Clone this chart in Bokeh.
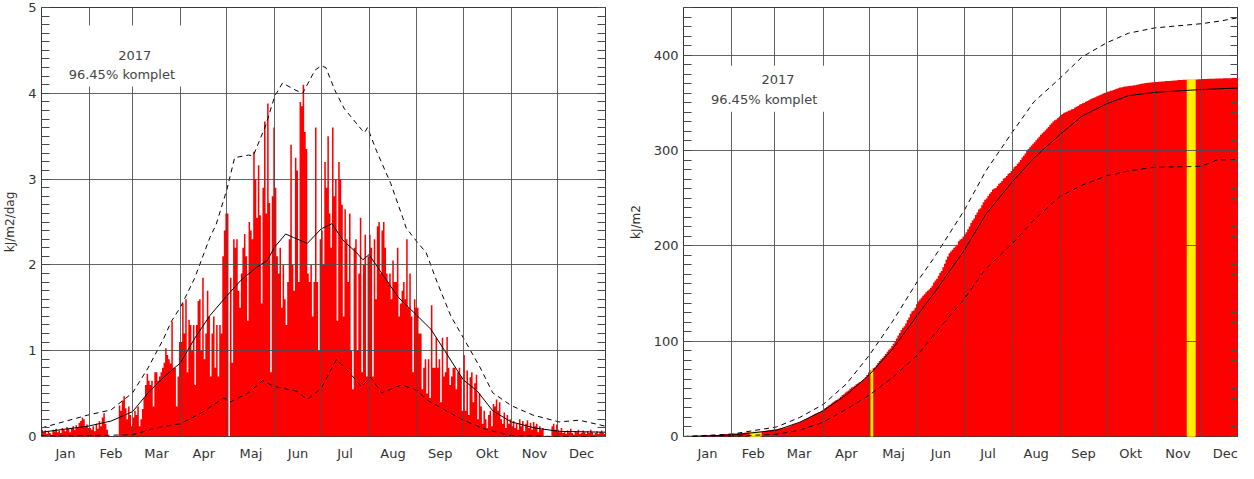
import numpy as np
from bokeh.plotting import figure
from bokeh.layouts import row
from bokeh.models import FixedTicker, LinearAxis, BoxAnnotation, Label, Range1d
from bokeh.embed import file_html
from bokeh.resources import INLINE

# ---------------- data ----------------
year_text = "2017"
complete_text = "96.45% komplet"
months = ["Jan", "Feb", "Mar", "Apr", "Maj", "Jun", "Jul", "Aug", "Sep", "Okt", "Nov", "Dec"]
month_len = [31, 28, 31, 30, 31, 30, 31, 31, 30, 31, 30, 31]

# daily UV dose 2017 (kJ/m2/dag), None = missing day
jan = [0.08, 0.05, 0.07, 0.03, 0.06, 0.04, 0.02, 0.08, 0.06, 0.09, 0.05, 0.07, 0.04, 0.10, 0.08, 0.06,
       0.11, 0.09, 0.05, 0.10, 0.12, 0.08, 0.13, 0.10, 0.16, 0.18, 0.22, 0.20, 0.12, 0.14, 0.10]
feb = [0.10, 0.08, 0.12, 0.06, 0.15, 0.09, 0.18, 0.12, 0.22, 0.27, 0.15, 0.08,
       None, None, None, None, None, None, None,
       0.36, 0.30, 0.42, 0.47, 0.33, 0.20, 0.35, 0.25, 0.12]
mar = [0.22, 0.30, 0.25, 0.35, 0.12, 0.20, 0.32, 0.45, 0.60, 0.73, 0.65, 0.60, 0.65, 0.35, 0.75, 0.75,
       0.65, 0.70, 0.75, 0.80, 0.86, 1.03, 0.95, 0.90, 0.85, 1.34, 0.80, 0.80, 0.35, 0.70, 1.10]
apr = [1.10, 1.55, 1.20, 1.60, 0.75, 1.36, 1.30, 1.00, 1.30, 0.60, 1.30, 1.58, 1.60, 1.00, 1.85,
       0.90, 1.20, 1.70, 1.40, 0.70, 1.20, 1.40, 0.80, 1.30, 0.70, 1.30, 1.20, 2.10, 2.40, 2.60]
may = [2.60, None, 1.85, 0.86, 2.30, 2.20, 2.30, 1.70, 1.50, 1.90, 2.20, 2.36, 2.10, 1.35, 2.50, 2.40,
       2.30, 3.32, 3.00, 2.55, 3.16, 2.58, 1.55, 2.90, 3.67, 2.60, 3.88, 2.72, 0.75, 2.80, 3.60]
jun = [2.90, 2.10, 1.90, 2.20, 1.50, 2.00, 1.60, 1.30, 1.80, 2.30, 3.40, 2.00, 1.70, 3.25, 3.10,
       1.80, 3.90, 3.85, 4.10, 3.55, 3.35, 1.90, 1.80, 2.00, 1.40, 1.80, 3.60, 1.80, 1.00, 2.30]
jul = [2.40, 2.00, 3.20, 2.90, 3.50, 2.60, 2.20, 3.60, 2.80, 3.00, 1.35, 3.20, 3.00, 2.70, 1.40, 2.65,
       2.30, 1.80, 2.60, 1.00, 0.55, 2.20, 2.30, 1.00, 1.90, 2.55, 0.75, 2.00, 2.35, 0.70, 2.10]
aug = [2.35, 2.20, 0.70, 2.30, 1.60, 2.45, 2.50, 1.90, 2.40, 2.50, 2.20, 1.90, 1.80, 1.90, 1.60, 2.05,
       1.80, 1.80, 2.20, 1.40, 1.55, 1.70, 1.80, 1.60, 2.30, 1.50, 1.90, 1.40, 0.75, 1.60, 1.50]
sep = [1.50, 1.20, 1.20, 0.55, 0.80, 0.90, 0.50, 0.90, 0.45, 1.53, 0.80, 0.80, 1.15, 0.80, 0.90,
       0.40, 1.15, 0.70, 0.75, 1.16, 0.80, 0.60, 0.70, 0.80, 0.80, 0.55, 0.75, 0.80, 0.70, 0.30]
okt = [0.95, 0.30, 0.77, 0.25, 0.69, 0.75, 0.40, 0.62, 0.72, 0.20, 0.50, 0.35, 0.15, 0.30, 0.20, 0.10,
       0.25, 0.30, 0.12, 0.38, 0.35, 0.43, 0.30, 0.40, 0.20, 0.15, 0.28, 0.10, 0.25, 0.15, 0.20]
nov = [0.12, 0.18, 0.10, 0.15, 0.08, 0.20, 0.12, 0.18, 0.06, 0.15, 0.19, 0.10, 0.16, 0.08, 0.17,
       0.12, 0.15, 0.05, 0.12, 0.08, 0.10, None, None, None, None, None, 0.12, 0.15, 0.08, 0.14]
dec = [0.08, 0.05, 0.10, 0.04, 0.06, 0.03, 0.07, 0.05, 0.09, 0.04, 0.02, 0.06, 0.05, 0.08, 0.03, 0.04,
       0.07, 0.05, 0.03, 0.06, 0.04, 0.08, 0.05, 0.02, 0.04, 0.06, 0.03, 0.05, 0.07, 0.04, 0.03]

# climatology of daily dose (day of year, value)
clim_max_day = [0, 30, 45, 59, 69, 79, 84, 90, 99, 109, 113, 120, 125, 134, 137, 145, 151, 156, 164, 169,
                177, 181, 184, 190, 196, 207, 209, 211, 217, 226, 234, 236, 243, 249, 256, 265, 273, 284,
                292, 304, 318, 335, 348, 365]
clim_max = [0.10, 0.25, 0.31, 0.51, 0.80, 1.14, 1.34, 1.51, 1.84, 2.32, 2.47, 2.88, 3.25, 3.28, 3.27, 3.62,
            3.97, 4.12, 4.04, 4.00, 4.27, 4.32, 4.30, 4.03, 3.82, 3.58, 3.54, 3.60, 3.32, 2.95, 2.54, 2.43,
            2.27, 2.14, 1.80, 1.40, 1.15, 0.80, 0.51, 0.36, 0.25, 0.17, 0.19, 0.12]
clim_mean_day = [0, 30, 45, 59, 69, 79, 90, 99, 109, 120, 129, 139, 146, 151, 158, 163, 172, 181, 188, 195,
                 204, 208, 212, 221, 231, 243, 252, 262, 273, 282, 292, 304, 319, 335, 365]
clim_mean = [0.05, 0.12, 0.18, 0.29, 0.51, 0.69, 0.86, 1.14, 1.41, 1.64, 1.82, 1.97, 2.05, 2.21, 2.36, 2.32,
             2.25, 2.42, 2.48, 2.29, 2.14, 2.06, 2.12, 1.88, 1.62, 1.41, 1.25, 0.97, 0.66, 0.53, 0.30, 0.17,
             0.10, 0.06, 0.05]
clim_min_day = [0, 30, 59, 74, 90, 104, 118, 122, 134, 143, 151, 165, 172, 181, 191, 200, 207, 213, 220, 233,
                243, 249, 260, 273, 288, 304, 334, 365]
clim_min = [0.01, 0.01, 0.02, 0.10, 0.15, 0.28, 0.45, 0.40, 0.51, 0.65, 0.58, 0.53, 0.43, 0.56, 0.90, 0.73,
            0.58, 0.69, 0.51, 0.60, 0.54, 0.43, 0.32, 0.19, 0.08, 0.01, 0.0, 0.0]

# climatology of accumulated dose (kJ/m2)
cum_mean_day = [0, 31, 60, 75, 90, 105, 120, 135, 151, 161, 181, 195, 212, 226, 243, 257, 273, 287, 304, 334, 365]
cum_mean = [0, 1.5, 6.6, 15, 27, 43.6, 65, 92, 127.5, 149, 195, 233, 267, 292, 317, 336, 349, 357.5, 361, 364, 366]
cum_max_day = [0, 31, 60, 75, 90, 105, 120, 135, 151, 161, 181, 195, 212, 226, 243, 257, 273, 287, 304, 334,
               347, 360, 365]
cum_max = [0, 2.5, 10, 20, 33.5, 55, 85.6, 121, 163, 186, 237, 278.5, 319, 351, 376, 398, 413, 423, 428.6,
           433, 436, 440, 442]
cum_min_day = [0, 31, 60, 75, 90, 105, 120, 135, 151, 161, 181, 195, 212, 226, 243, 257, 273, 287, 304, 325,
               334, 344, 354, 365]
cum_min = [0, 0.3, 2.3, 6.7, 15, 28.5, 43.6, 62, 85.6, 105.7, 144, 176, 202, 227, 252, 263.5, 273.5, 278.5,
           282.6, 283, 283.5, 290, 290.6, 288]

# ---------------- derived ----------------
daily = jan + feb + mar + apr + may + jun + jul + aug + sep + okt + nov + dec
days = np.arange(len(daily))
vals = np.array([np.nan if v is None else v for v in daily], dtype=float)
miss = np.isnan(vals)
filled = np.where(miss, 0.0, vals)
cum = np.cumsum(filled)
edges = np.arange(len(daily) + 1)
step_daily = np.append(filled, filled[-1])
step_cum = np.append(cum, cum[-1])

mstart = np.concatenate([[0], np.cumsum(month_len)])
mmid = [float(mstart[i] + month_len[i] / 2.0) for i in range(12)]

FONT = "DejaVu Sans"
TXT = "#333333"
GRID = "#4a4a4a"
RED = "#ff0000"
YELLOW = "#fff000"


def make_fig(width, min_left, min_right, x_end, y_end, yticks, yminor, ylabel):
    p = figure(width=width, height=463, x_range=Range1d(0, x_end), y_range=Range1d(0, y_end),
               output_backend="svg", toolbar_location=None,
               min_border_left=min_left, min_border_right=min_right,
               min_border_top=7, min_border_bottom=18)
    p.outline_line_color = "#3a3a3a"
    p.outline_line_width = 1
    xa = p.xaxis[0]
    xa.ticker = FixedTicker(ticks=mmid)
    xa.major_label_overrides = {m: n for m, n in zip(mmid, months)}
    xa.major_tick_line_color = None
    xa.minor_tick_line_color = None
    xa.axis_line_color = None
    xa.major_label_standoff = 3
    xa.major_label_text_font = FONT
    xa.major_label_text_font_size = "13px"
    xa.major_label_text_color = TXT

    ya = p.yaxis[0]
    ya.ticker = FixedTicker(ticks=yticks, minor_ticks=yminor)
    ya.axis_line_color = None
    ya.major_tick_in = 8
    ya.major_tick_out = 0
    ya.minor_tick_in = 8
    ya.minor_tick_out = 0
    ya.major_tick_line_color = GRID
    ya.minor_tick_line_color = GRID
    ya.major_label_standoff = 5
    ya.major_label_text_font = FONT
    ya.major_label_text_font_size = "13px"
    ya.major_label_text_color = TXT
    ya.axis_label = ylabel
    ya.axis_label_text_font = FONT
    ya.axis_label_text_font_size = "12px"
    ya.axis_label_text_font_style = "normal"
    ya.axis_label_text_color = TXT
    ya.axis_label_standoff = 8

    ra = LinearAxis(ticker=FixedTicker(ticks=yticks, minor_ticks=yminor),
                    major_label_overrides={t: "" for t in yticks},
                    major_label_text_font_size="0px", major_label_standoff=0,
                    axis_line_color=None, major_tick_in=8, major_tick_out=0,
                    minor_tick_in=8, minor_tick_out=0,
                    major_tick_line_color=GRID, minor_tick_line_color=GRID)
    p.add_layout(ra, "right")

    p.xgrid.ticker = FixedTicker(ticks=[float(s) for s in mstart[1:12]])
    p.ygrid.ticker = FixedTicker(ticks=yticks)
    p.grid.grid_line_color = GRID
    p.grid.grid_line_alpha = 0.85
    p.grid.grid_line_width = 1
    p.grid.level = "annotation"
    return p


def add_textbox(p, left, right, bottom, top, x1, y1, x2, y2):
    p.add_layout(BoxAnnotation(left=left, right=right, bottom=bottom, top=top,
                               fill_color="white", fill_alpha=1.0, line_color=None, level="overlay"))
    p.add_layout(Label(x=x1, y=y1, text=year_text, text_align="center", text_baseline="middle",
                       text_font=FONT, text_font_size="13px", text_color="#444444", level="overlay"))
    p.add_layout(Label(x=x2, y=y2, text=complete_text, text_align="center", text_baseline="middle",
                       text_font=FONT, text_font_size="13px", text_color="#444444", level="overlay"))


# ---------------- left panel: daily dose ----------------
p1 = make_fig(625, 37, 20, 365, 5, [0, 1, 2, 3, 4, 5],
              [round(0.1 * i, 1) for i in range(51)], "kJ/m2/dag")
p1.varea_step(x=edges, y1=np.zeros_like(step_daily), y2=step_daily, step_mode="after", fill_color=RED)
p1.line(clim_max_day, clim_max, line_color="black", line_width=1, line_dash="5 4")
p1.line(clim_mean_day, clim_mean, line_color="black", line_width=1)
p1.line(clim_min_day, clim_min, line_color="black", line_width=1, line_dash="5 4")
add_textbox(p1, 12.9, 112.5, 4.08, 4.79, 60.4, 4.44, 52.0, 4.22)

# ---------------- right panel: accumulated dose ----------------
p2 = make_fig(613, 55, 0, 358, 450, [0, 100, 200, 300, 400],
              [10 * i for i in range(46)], "kJ/m2")
p2.varea_step(x=edges, y1=np.zeros_like(step_cum), y2=step_cum, step_mode="after", fill_color=RED)
p2.vbar(x=days[miss] + 0.5, top=cum[miss], width=1, fill_color=YELLOW, line_color=YELLOW, line_width=1.2)
p2.line(cum_max_day, cum_max, line_color="black", line_width=1, line_dash="5 4")
p2.line(cum_mean_day, cum_mean, line_color="black", line_width=1)
p2.line(cum_min_day, cum_min, line_color="black", line_width=1, line_dash="5 4")
add_textbox(p2, 12.8, 108.3, 340.7, 389.0, 61.0, 375.0, 52.0, 354.0)

layout = row(p1, p2)
open("out.html", "w").write(file_html(layout, INLINE))
